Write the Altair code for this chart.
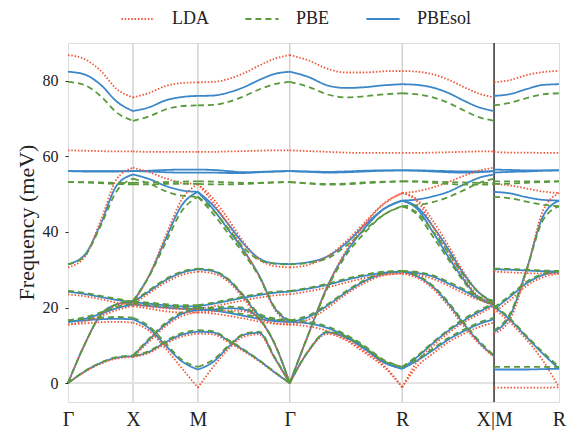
import altair as alt
import pandas as pd

# high-symmetry path (cumulative k distance, cubic lattice units)
kpoints = [0.0, 1.0, 2.0, 3.414, 5.146, 6.560, 7.560]
klabels = ["Γ", "X", "M", "Γ", "R", "X|M", "R"]
funcs = ["LDA", "PBE", "PBEsol"]
colors = ["#f0583a", "#5a9a3c", "#3b87c8"]

frac5 = [0, 0.25, 0.5, 0.75, 1]
frac7 = [0, 1 / 6, 2 / 6, 3 / 6, 4 / 6, 5 / 6, 1]

# ---------------- Γ -> X ----------------
GX_PBEsol = [
    [82.4, 81.7, 79.0, 74.5, 72.0],
    [56.1, 56.1, 56.1, 56.1, 56.1],
    [56.1, 56.0, 56.0, 56.0, 56.1],
    [31.5, 33.8, 42.0, 52.3, 55.2],
    [24.2, 23.6, 22.8, 22.0, 21.4],
    [16.2, 16.6, 16.9, 17.0, 16.9],
    [16.2, 17.0, 18.3, 19.8, 20.8],
    [0.0, 10.0, 18.0, 20.8, 21.5],
    [0.0, 3.0, 5.3, 6.7, 7.1],
]
GX_LDA = [
    [86.8, 85.8, 82.7, 77.8, 75.6],
    [61.6, 61.5, 61.4, 61.3, 61.3],
    [30.6, 33.2, 42.8, 54.0, 57.0],
    [23.5, 23.0, 22.2, 21.3, 20.8],
    [15.5, 15.8, 16.1, 16.2, 16.0],
    [15.5, 16.3, 17.7, 19.3, 20.4],
    [0.0, 10.0, 17.8, 20.5, 21.2],
    [0.0, 2.9, 5.1, 6.5, 6.9],
]
GX_PBE = [
    [79.7, 78.9, 76.0, 71.6, 69.4],
    [53.2, 53.2, 53.1, 53.0, 53.0],
    [53.2, 53.1, 52.9, 52.7, 52.6],
    [31.4, 33.5, 41.5, 50.8, 54.1],
    [24.4, 23.9, 23.1, 22.3, 21.6],
    [16.6, 17.0, 17.3, 17.5, 17.3],
    [16.6, 17.4, 18.7, 20.2, 21.1],
    [0.0, 10.0, 18.0, 20.9, 21.8],
    [0.0, 3.1, 5.4, 6.9, 7.3],
]

# ---------------- X -> M ----------------
XM_PBEsol = [
    [72.0, 73.0, 74.8, 75.7, 76.0],
    [56.1, 56.2, 56.4, 56.5, 56.5],
    [56.1, 56.0, 55.8, 55.7, 55.7],
    [55.2, 54.0, 52.2, 51.0, 50.6],
    [21.5, 28.5, 38.0, 47.0, 50.6],
    [21.4, 24.3, 27.2, 29.2, 30.1],
    [21.4, 21.0, 20.6, 20.3, 20.3],
    [20.8, 20.4, 20.0, 19.7, 19.6],
    [16.9, 14.5, 10.0, 5.8, 3.6],
    [7.1, 11.5, 15.5, 18.3, 19.3],
    [7.1, 8.3, 10.8, 12.8, 13.6],
]
XM_LDA = [
    [75.6, 76.8, 78.6, 79.4, 79.6],
    [61.3, 61.2, 61.2, 61.2, 61.2],
    [57.0, 55.8, 54.2, 53.0, 52.7],
    [21.2, 28.5, 38.8, 48.5, 52.7],
    [20.8, 23.8, 26.6, 28.6, 29.5],
    [20.8, 20.3, 19.8, 19.6, 19.6],
    [20.4, 19.7, 19.0, 18.7, 18.7],
    [16.0, 13.8, 9.2, 4.0, -1.2],
    [6.9, 11.0, 15.0, 17.7, 18.7],
    [6.9, 8.0, 10.4, 12.3, 13.1],
]
XM_PBE = [
    [69.4, 70.6, 72.4, 73.3, 73.5],
    [53.0, 53.1, 53.2, 53.3, 53.4],
    [52.6, 52.6, 52.7, 52.7, 52.7],
    [54.1, 52.8, 50.8, 49.6, 49.3],
    [21.8, 28.3, 37.0, 45.5, 49.3],
    [21.6, 24.6, 27.5, 29.5, 30.3],
    [21.6, 21.3, 20.9, 20.6, 20.6],
    [21.1, 20.8, 20.4, 20.1, 20.0],
    [17.3, 15.0, 10.6, 6.2, 4.3],
    [7.3, 11.8, 15.9, 18.7, 19.8],
    [7.3, 8.5, 11.1, 13.2, 14.0],
]

# ---------------- M -> Γ ----------------
MG_PBEsol = [
    [76.0, 76.1, 76.9, 78.3, 80.2, 81.8, 82.4],
    [56.5, 56.4, 56.1, 55.8, 55.9, 56.0, 56.1],
    [55.7, 55.7, 55.6, 55.6, 55.8, 56.0, 56.1],
    [50.6, 47.0, 42.0, 36.8, 33.0, 31.7, 31.5],
    [50.6, 46.0, 40.5, 35.0, 28.5, 20.0, 16.2],
    [30.1, 29.6, 27.3, 22.9, 18.0, 16.7, 16.2],
    [20.3, 21.0, 21.8, 22.6, 23.3, 23.9, 24.2],
    [19.6, 19.2, 18.6, 17.8, 17.0, 16.4, 16.2],
    [19.3, 19.5, 19.8, 19.5, 17.0, 10.5, 0.0],
    [13.6, 13.4, 11.2, 8.7, 6.0, 2.9, 0.0],
    [3.6, 5.6, 9.6, 12.8, 13.3, 6.8, 0.0],
]
MG_LDA = [
    [79.6, 79.7, 80.5, 82.0, 84.0, 85.8, 86.8],
    [61.2, 61.2, 61.3, 61.4, 61.5, 61.6, 61.6],
    [52.7, 48.8, 43.3, 37.3, 32.7, 31.0, 30.6],
    [52.7, 47.8, 41.8, 35.3, 28.3, 19.6, 15.5],
    [29.5, 29.0, 26.8, 22.3, 17.3, 15.9, 15.5],
    [19.6, 20.3, 21.1, 21.9, 22.6, 23.2, 23.5],
    [18.7, 18.4, 17.8, 17.1, 16.3, 15.7, 15.5],
    [18.7, 19.0, 19.2, 19.0, 16.8, 10.5, 0.0],
    [13.1, 12.9, 10.8, 8.4, 5.8, 2.8, 0.0],
    [-1.2, 4.3, 9.0, 12.3, 12.9, 6.6, 0.0],
]
MG_PBE = [
    [73.5, 73.6, 74.4, 75.9, 77.7, 79.1, 79.7],
    [53.4, 53.3, 53.1, 53.0, 53.0, 53.1, 53.2],
    [52.7, 52.6, 52.6, 52.7, 52.9, 53.1, 53.2],
    [49.3, 45.8, 40.8, 35.8, 32.6, 31.6, 31.4],
    [49.3, 44.8, 39.5, 34.2, 28.2, 20.2, 16.6],
    [30.3, 29.8, 27.5, 23.2, 18.4, 17.1, 16.6],
    [20.6, 21.3, 22.1, 22.9, 23.6, 24.2, 24.4],
    [20.0, 19.6, 19.0, 18.2, 17.4, 16.8, 16.6],
    [19.8, 20.0, 20.2, 19.9, 17.2, 10.6, 0.0],
    [14.0, 13.7, 11.4, 8.9, 6.1, 3.0, 0.0],
    [4.3, 6.2, 9.9, 13.0, 13.6, 7.0, 0.0],
]

# ---------------- Γ -> R ----------------
GR_PBEsol = [
    [82.4, 81.0, 78.8, 78.1, 78.3, 78.8, 79.1],
    [56.1, 56.0, 55.9, 56.0, 56.2, 56.3, 56.3],
    [56.1, 55.9, 55.7, 55.8, 56.0, 56.2, 56.3],
    [31.5, 32.0, 33.5, 37.0, 41.8, 46.0, 48.3],
    [0.0, 13.0, 25.5, 34.5, 41.0, 46.0, 48.3],
    [24.2, 25.0, 26.0, 27.3, 28.4, 29.2, 29.5],
    [16.2, 17.5, 20.5, 24.0, 27.0, 28.9, 29.5],
    [16.2, 15.8, 14.6, 12.4, 9.4, 5.8, 3.8],
    [0.0, 8.5, 13.4, 12.0, 9.0, 5.5, 3.8],
]
GR_LDA = [
    [86.8, 85.4, 83.2, 82.2, 82.2, 82.5, 82.6],
    [61.6, 61.4, 61.2, 61.0, 60.9, 60.9, 60.9],
    [30.6, 31.3, 33.5, 37.5, 42.5, 47.5, 50.3],
    [0.0, 12.8, 25.5, 35.0, 42.0, 47.3, 50.3],
    [23.5, 24.3, 25.3, 26.6, 27.8, 28.7, 29.0],
    [15.5, 16.8, 19.8, 23.5, 26.5, 28.5, 29.0],
    [15.5, 15.0, 13.8, 11.6, 8.4, 4.8, -1.1],
    [0.0, 8.4, 13.0, 11.3, 8.0, 4.4, -1.1],
]
GR_PBE = [
    [79.7, 78.4, 76.4, 75.6, 75.9, 76.4, 76.7],
    [53.2, 52.9, 52.7, 52.8, 53.1, 53.3, 53.4],
    [53.2, 52.8, 52.5, 52.6, 52.9, 53.2, 53.4],
    [31.4, 31.8, 33.0, 36.3, 40.5, 44.5, 46.8],
    [0.0, 13.0, 25.0, 33.8, 39.8, 44.5, 46.8],
    [24.4, 25.2, 26.3, 27.6, 28.7, 29.5, 29.7],
    [16.6, 17.9, 20.8, 24.3, 27.3, 29.2, 29.7],
    [16.6, 16.2, 15.0, 12.8, 9.8, 6.2, 4.3],
    [0.0, 8.6, 13.6, 12.3, 9.3, 5.9, 4.3],
]

# ---------------- R -> X ----------------
RX_PBEsol = [
    [79.1, 78.9, 78.2, 76.8, 74.8, 73.0, 72.0],
    [56.3, 56.3, 56.2, 56.1, 56.0, 56.0, 56.1],
    [56.3, 56.2, 56.0, 55.8, 55.7, 55.8, 56.1],
    [48.3, 48.6, 49.4, 50.6, 52.5, 54.3, 55.2],
    [48.3, 46.5, 41.5, 35.5, 29.0, 24.0, 21.4],
    [48.3, 46.0, 40.0, 33.5, 27.5, 22.5, 20.8],
    [29.5, 29.1, 28.2, 26.4, 24.5, 22.4, 21.5],
    [29.5, 28.2, 25.5, 21.1, 15.8, 10.9, 7.1],
    [3.8, 6.0, 8.7, 11.5, 13.7, 15.6, 16.9],
    [3.8, 7.0, 10.5, 13.8, 16.5, 18.8, 20.8],
]
RX_LDA = [
    [82.6, 82.4, 81.7, 80.3, 78.4, 76.6, 75.6],
    [60.9, 60.9, 61.0, 61.1, 61.2, 61.3, 61.3],
    [50.3, 50.8, 51.8, 53.2, 54.8, 56.2, 57.0],
    [50.3, 48.5, 43.0, 36.5, 29.5, 24.0, 20.8],
    [50.3, 48.0, 41.5, 34.5, 28.0, 22.8, 20.4],
    [29.0, 28.6, 27.6, 25.8, 23.8, 22.0, 21.2],
    [29.0, 27.8, 25.0, 20.5, 15.2, 10.5, 6.9],
    [-1.1, 4.5, 7.8, 10.8, 13.0, 14.8, 16.0],
    [-1.1, 5.8, 9.8, 13.2, 16.0, 18.2, 20.4],
]
RX_PBE = [
    [76.7, 76.4, 75.6, 74.2, 72.2, 70.4, 69.4],
    [53.4, 53.4, 53.3, 53.2, 53.1, 53.0, 53.0],
    [53.4, 53.3, 53.0, 52.7, 52.5, 52.5, 52.6],
    [46.8, 47.1, 47.9, 49.2, 51.0, 52.9, 54.1],
    [46.8, 45.0, 40.2, 34.6, 28.6, 24.0, 21.6],
    [46.8, 44.5, 38.8, 32.8, 27.0, 22.3, 21.1],
    [29.7, 29.4, 28.5, 26.8, 24.9, 22.8, 21.8],
    [29.7, 28.5, 25.8, 21.5, 16.2, 11.3, 7.3],
    [4.3, 6.4, 9.1, 11.9, 14.1, 16.0, 17.3],
    [4.3, 7.3, 10.8, 14.1, 16.9, 19.2, 21.1],
]

# ---------------- M -> R ----------------
MR_PBEsol = [
    [76.0, 76.5, 77.8, 78.9, 79.1],
    [56.5, 56.4, 56.3, 56.3, 56.3],
    [55.7, 55.9, 56.0, 56.2, 56.3],
    [50.6, 50.2, 49.2, 48.5, 48.3],
    [13.6, 18.0, 30.0, 44.0, 48.3],
    [30.1, 30.0, 29.8, 29.6, 29.5],
    [19.6, 22.9, 26.4, 28.6, 29.5],
    [20.3, 16.7, 12.2, 7.8, 3.8],
    [3.6, 3.6, 3.6, 3.7, 3.8],
]
MR_LDA = [
    [79.6, 80.2, 81.5, 82.3, 82.6],
    [61.2, 61.0, 61.0, 60.9, 60.9],
    [52.7, 52.3, 51.5, 50.7, 50.3],
    [13.1, 17.0, 29.5, 45.5, 50.3],
    [29.5, 29.3, 29.1, 29.0, 29.0],
    [18.7, 22.0, 25.7, 28.0, 29.0],
    [19.6, 16.0, 11.5, 6.0, -1.1],
    [-1.2, -1.2, -1.2, -1.2, -1.1],
]
MR_PBE = [
    [73.5, 74.2, 75.4, 76.4, 76.7],
    [53.4, 53.4, 53.4, 53.4, 53.4],
    [52.7, 52.8, 53.0, 53.2, 53.4],
    [49.3, 48.9, 48.0, 47.2, 46.8],
    [14.0, 18.5, 30.0, 43.0, 46.8],
    [30.3, 30.2, 30.0, 29.8, 29.7],
    [20.0, 23.3, 26.8, 28.9, 29.7],
    [20.6, 17.0, 12.5, 8.2, 4.3],
    [4.3, 4.3, 4.3, 4.3, 4.3],
]

segments = [
    (frac5, {"LDA": GX_LDA, "PBE": GX_PBE, "PBEsol": GX_PBEsol}),
    (frac5, {"LDA": XM_LDA, "PBE": XM_PBE, "PBEsol": XM_PBEsol}),
    (frac7, {"LDA": MG_LDA, "PBE": MG_PBE, "PBEsol": MG_PBEsol}),
    (frac7, {"LDA": GR_LDA, "PBE": GR_PBE, "PBEsol": GR_PBEsol}),
    (frac7, {"LDA": RX_LDA, "PBE": RX_PBE, "PBEsol": RX_PBEsol}),
    (frac5, {"LDA": MR_LDA, "PBE": MR_PBE, "PBEsol": MR_PBEsol}),
]

rows = []
for si, (fr, bands) in enumerate(segments):
    k0, k1 = kpoints[si], kpoints[si + 1]
    for fn, blist in bands.items():
        for bi, vals in enumerate(blist):
            for f, v in zip(fr, vals):
                rows.append({"func": fn, "key": f"{fn}-{si}-{bi}",
                             "k": k0 + f * (k1 - k0), "freq": v})
df = pd.DataFrame(rows)

# label expression for high-symmetry ticks
expr = "''"
for kv, lab in reversed(list(zip(kpoints, klabels))):
    expr = f"abs(datum.value - {kv}) < 0.01 ? '{lab}' : ({expr})"

FONT = "Liberation Serif"
xscale = alt.Scale(domain=[kpoints[0], kpoints[-1]], nice=False, zero=False)
yscale = alt.Scale(domain=[-5, 90], nice=False, zero=False)

xaxis = alt.Axis(values=kpoints, labelExpr=expr, title=None, grid=False,
                 domain=False, ticks=False, labelFont=FONT, labelFontSize=20,
                 labelColor="#222", labelPadding=7, labelFlush=False,
                 labelOverlap=False)
yaxis = alt.Axis(values=[0, 20, 40, 60, 80], title="Frequency (meV)",
                 grid=False, domain=False, tickSize=3, tickColor="#222",
                 labelFont=FONT, labelFontSize=16, labelColor="#222",
                 labelPadding=7, titleFont=FONT, titleFontSize=22,
                 titleFontWeight="normal", titleColor="#222",
                 titleX=-35, titleY=179, titleBaseline="alphabetic",
                 titleAlign="center", titleAngle=-90)

legend = alt.Legend(title=None, orient="none", legendX=52, legendY=-42,
                    direction="horizontal", symbolType="stroke",
                    symbolSize=1100, symbolStrokeWidth=2, labelFont=FONT,
                    labelFontSize=18, labelColor="#222", labelOffset=16,
                    columnPadding=32, padding=0)

color = alt.Color("func:N", scale=alt.Scale(domain=funcs, range=colors),
                  legend=legend)
dash = alt.StrokeDash("func:N", scale=alt.Scale(
    domain=funcs, range=[[1.5, 1.8], [6, 4], [1, 0]]), legend=legend)

base = alt.Chart(df).mark_line(interpolate="monotone", strokeWidth=1.8).encode(
    x=alt.X("k:Q", scale=xscale, axis=xaxis),
    y=alt.Y("freq:Q", scale=yscale, axis=yaxis),
    color=color,
    strokeDash=dash,
    detail="key:N",
)

grid_df = pd.DataFrame({"k": kpoints[1:5]})
grid = alt.Chart(grid_df).mark_rule(color="#cccccc", strokeWidth=1.3).encode(
    x=alt.X("k:Q", scale=xscale, axis=xaxis))
brk_df = pd.DataFrame({"k": kpoints[5:6]})
brk = alt.Chart(brk_df).mark_rule(color="#111111", strokeWidth=1.3).encode(
    x=alt.X("k:Q", scale=xscale, axis=xaxis))
zero = alt.Chart(grid_df).mark_rule(color="#e2e2e2", strokeWidth=1.3).encode(
    y=alt.Y(datum=0, scale=yscale, axis=yaxis))

layers = [grid, zero, brk]
for fn in ["PBEsol", "LDA", "PBE"]:
    layers.append(base.transform_filter(alt.datum.func == fn))

chart = alt.layer(*layers).properties(
    width=491, height=359,
    autosize=alt.AutoSizeParams(type="none"),
    padding={"left": 60, "top": 35, "right": 14, "bottom": 28},
).configure_view(stroke="#222", strokeWidth=1.2).configure(
    background="white")

chart.save("out.html", embed_options={"renderer": "svg", "actions": False})
